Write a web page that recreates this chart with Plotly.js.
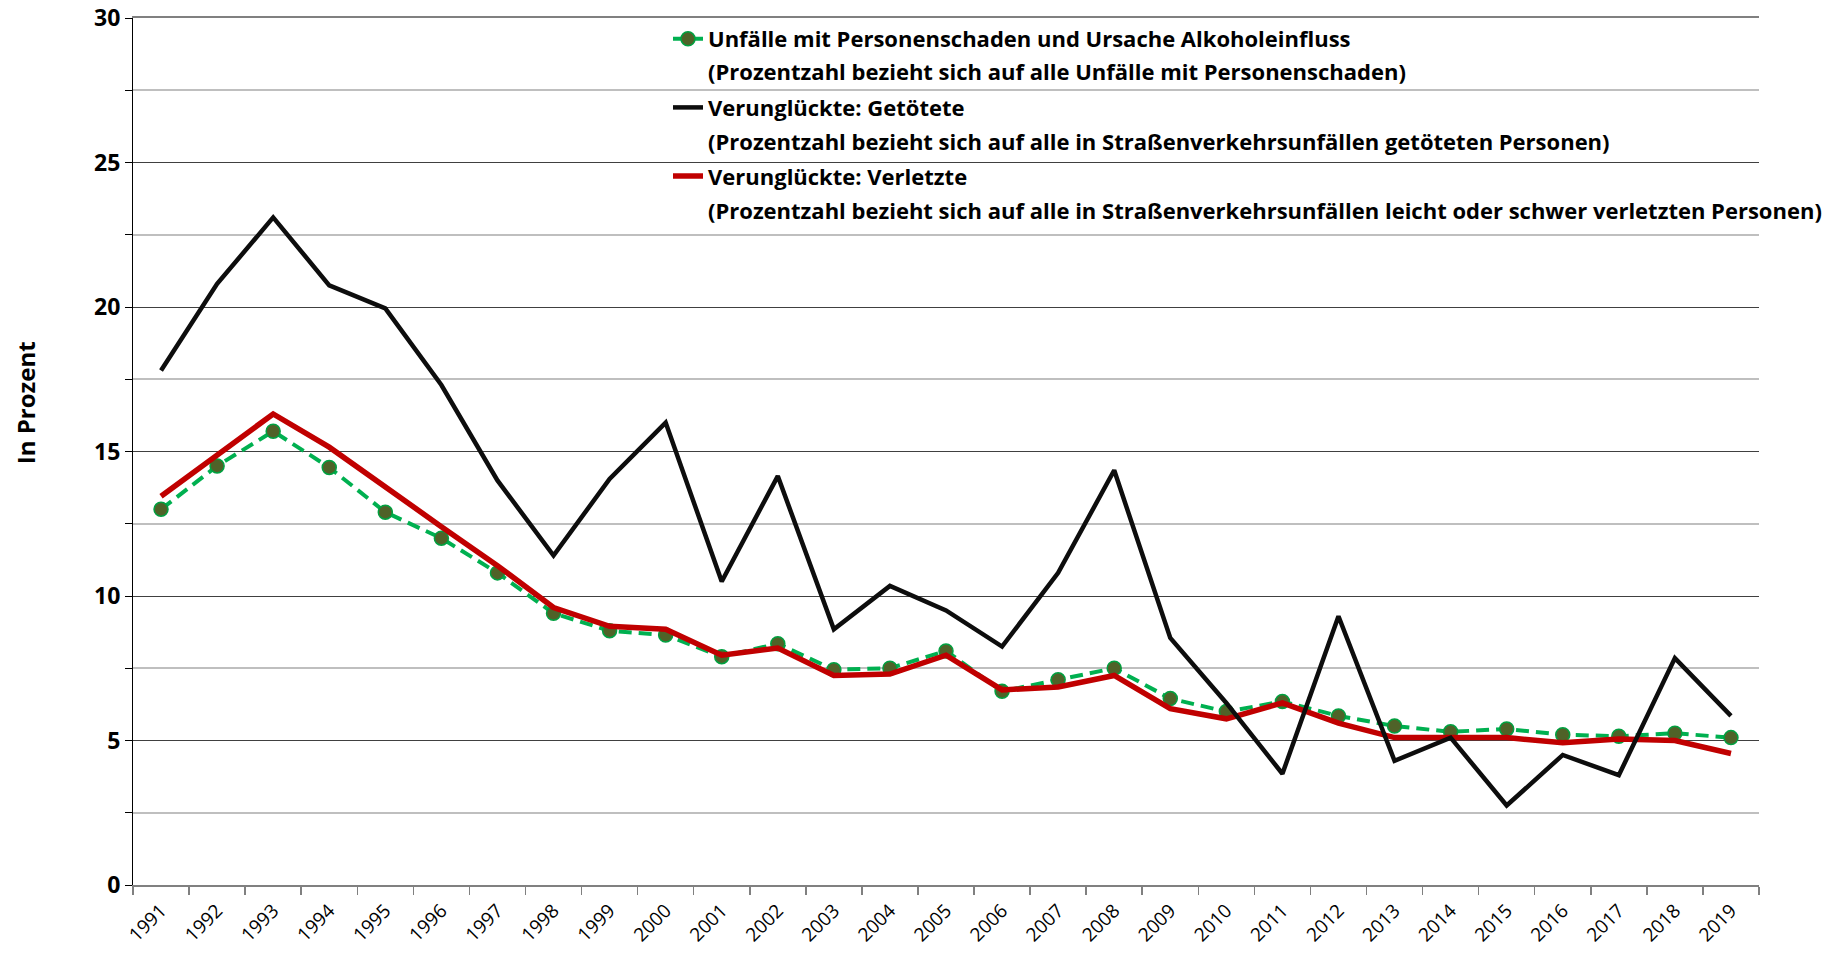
<!DOCTYPE html>
<html>
<head>
<meta charset="utf-8">
<script src="https://cdn.plot.ly/plotly-3.0.1.min.js"></script>
<style>html,body{margin:0;padding:0;background:#fff;}#chart{width:1833px;height:953px;}</style>
</head>
<body>
<div id="chart"></div>
<script>
const years = ["1991","1992","1993","1994","1995","1996","1997","1998","1999","2000","2001","2002","2003","2004","2005","2006","2007","2008","2009","2010","2011","2012","2013","2014","2015","2016","2017","2018","2019"];
const alcoholAccidents = [13.0,14.5,15.7,14.45,12.9,12.0,10.8,9.4,8.8,8.65,7.9,8.35,7.45,7.5,8.1,6.7,7.1,7.5,6.45,6.0,6.35,5.85,5.5,5.3,5.4,5.2,5.15,5.25,5.1];
const killed = [17.8,20.8,23.1,20.75,19.95,17.3,14.0,11.4,14.05,16.0,10.5,14.15,8.85,10.35,9.5,8.25,10.8,14.35,8.55,6.3,3.85,9.3,4.3,5.1,2.75,4.5,3.8,7.85,5.85];
const injured = [13.45,14.85,16.3,15.15,13.75,12.4,11.05,9.6,8.95,8.85,7.95,8.2,7.25,7.3,7.95,6.75,6.85,7.25,6.1,5.75,6.3,5.6,5.1,5.1,5.1,4.92,5.05,5.0,4.55];

const seriesNames = ["Unfälle mit Personenschaden und Ursache Alkoholeinfluss","Verunglückte: Getötete","Verunglückte: Verletzte"];
const seriesNotes = ["(Prozentzahl bezieht sich auf alle Unfälle mit Personenschaden)","(Prozentzahl bezieht sich auf alle in Straßenverkehrsunfällen getöteten Personen)","(Prozentzahl bezieht sich auf alle in Straßenverkehrsunfällen leicht oder schwer verletzten Personen)"];
const yTitle = "In Prozent";

const FONT = "Open Sans, Liberation Sans, sans-serif";

const traces = [
  {x: years, y: alcoholAccidents, name: seriesNames[0], type: "scatter", mode: "lines+markers",
   line: {color: "#00B050", width: 4, dash: "13px,7px"},
   marker: {size: 14, color: "#4F6228", line: {color: "#00A040", width: 1.5}},
   legendrank: 1, legendgroup: "a"},
  {x: years, y: injured, name: seriesNames[2], type: "scatter", mode: "lines",
   line: {color: "#C00000", width: 5.5}, legendrank: 3, legendgroup: "c"},
  {x: years, y: killed, name: seriesNames[1], type: "scatter", mode: "lines",
   line: {color: "#0D0D0D", width: 4.5}, legendrank: 2, legendgroup: "b"}
];

const plotL = 133, plotR = 1759, plotT = 17.5, plotB = 885;
const pw = plotR - plotL, ph = plotB - plotT;
const px = v => (v - plotL) / pw;
const py = v => 1 - (v - plotT) / ph;

const noteY = [71, 140.5, 210];
const annotations = seriesNotes.map((t, i) => ({
  xref: "paper", yref: "paper", x: px(706), y: py(noteY[i]), xanchor: "left", yanchor: "middle",
  text: t, showarrow: false, font: {family: FONT, size: 22, color: "#000", weight: 700}
}));
annotations.push({
  xref: "paper", yref: "paper", x: px(25), y: py(403), xanchor: "center", yanchor: "middle",
  text: yTitle, textangle: -90, showarrow: false, font: {family: FONT, size: 24, color: "#000", weight: 700}
});

const layout = {
  width: 1833, height: 953,
  margin: {l: plotL, r: 1833 - plotR, t: plotT, b: 953 - plotB},
  paper_bgcolor: "#fff", plot_bgcolor: "#fff",
  showlegend: true,
  legend: {x: px(668), y: py(17.5), xanchor: "left", yanchor: "top", bgcolor: "rgba(0,0,0,0)",
    font: {family: FONT, size: 22, color: "#000", weight: 700}, tracegroupgap: 37, traceorder: "grouped"},
  xaxis: {type: "category", range: [-0.5, 28.5], tickson: "boundaries", ticks: "outside", ticklen: 8,
    tickcolor: "#808080", tickwidth: 1.5, showline: true, mirror: true, linecolor: "#808080", linewidth: 2,
    showgrid: false, zeroline: false, tickangle: -45, ticklabelstandoff: 5,
    tickfont: {family: FONT, size: 19, color: "#000"}, automargin: false, fixedrange: true},
  yaxis: {range: [0, 30], dtick: 5, tick0: 0, ticks: "outside", ticklen: 7, tickcolor: "#000", tickwidth: 1,
    showline: true, linecolor: "#000", linewidth: 1, zeroline: false,
    showgrid: true, gridcolor: "#404040", gridwidth: 1, ticklabeloverflow: "allow",
    minor: {dtick: 2.5, showgrid: true, gridcolor: "#BFBFBF", gridwidth: 2, ticks: "outside", ticklen: 7, tickcolor: "#000"},
    tickfont: {family: FONT, size: 23, color: "#000", weight: 700},
    automargin: false, fixedrange: true},
  annotations: annotations,
  hovermode: false
};

Plotly.newPlot("chart", traces, layout, {displayModeBar: false, staticPlot: true});
</script>
</body>
</html>
